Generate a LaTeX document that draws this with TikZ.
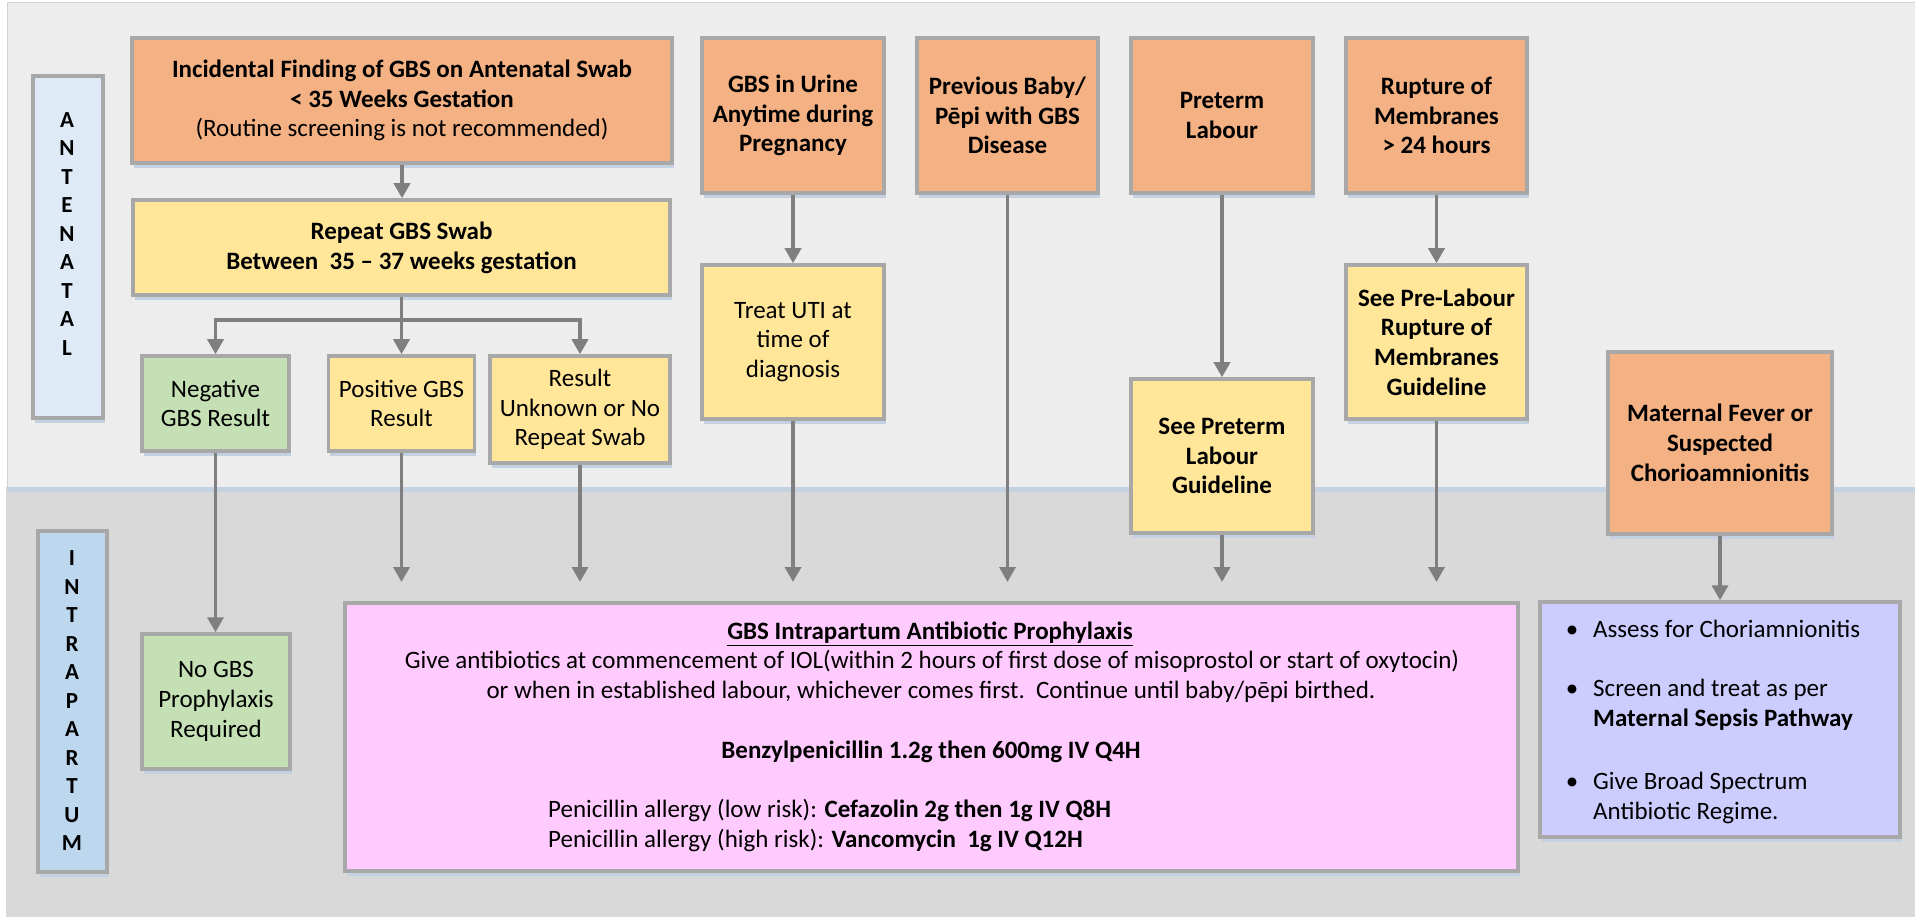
\documentclass[tikz,border=0pt]{standalone}
\usepackage{fontspec}
\setmainfont{Carlito}
\usetikzlibrary{arrows.meta,shadows}
\definecolor{orangeF}{HTML}{F4B183}
\definecolor{yellowF}{HTML}{FFE699}
\definecolor{greenF}{HTML}{C5E0B4}
\definecolor{pinkF}{HTML}{FFCAFE}
\definecolor{lavF}{HTML}{CCCCFF}
\definecolor{antF}{HTML}{DEEBF7}
\definecolor{intF}{HTML}{BDD7EE}
\definecolor{topP}{HTML}{EDEDED}
\definecolor{lowP}{HTML}{D9D9D9}
\definecolor{bordC}{HTML}{A8A8A8}
\definecolor{panelB}{HTML}{D4D4D4}
\definecolor{arrC}{HTML}{7F7F7F}
\definecolor{shadC}{HTML}{C4D1E1}
\begin{document}
\begin{tikzpicture}[x=1pt,y=-1pt,
  shad/.style={drop shadow={shadow xshift=1.5pt,shadow yshift=-5pt,fill=shadC,opacity=1}},
  box/.style={draw=bordC,line width=3.5pt,align=center,inner sep=2pt,shad,
    font=\fontsize{25}{29.7}\selectfont},
  sidebox/.style={draw=bordC,line width=3.5pt,shad},
  letters/.style={font=\bfseries\fontsize{23}{28.5}\selectfont,align=center,inner sep=0pt},
  txt/.style={inner sep=0pt,font=\fontsize{25}{29.7}\selectfont},
  conn/.style={draw=arrC,line width=3.5pt},
  arr/.style={conn,-{Triangle[width=16pt,length=15pt]}}]
\useasboundingbox (0,0) rectangle (1915,917);
\fill[white] (0,0) rectangle (1915,917);
% panels
\fill[lowP] (6,487) rectangle (1915,917);
\filldraw[fill=topP,draw=panelB,line width=1pt] (7,3) rectangle (1916,487);
\fill[shadC] (7,487) rectangle (1915,492);

% side labels
\node[sidebox,fill=antF,minimum width=70pt,minimum height=342pt] (ant) at (68,247) {};
\node[letters] (antl) at (67,234) {A\\N\\T\\E\\N\\A\\T\\A\\L};
\node[sidebox,fill=intF,minimum width=69pt,minimum height=341pt] (intra) at (72.5,701.5) {};
\node[letters] (intral) at (72,701) {I\\N\\T\\R\\A\\P\\A\\R\\T\\U\\M};

% antenatal boxes
\node[box,fill=orangeF,minimum width=540pt,minimum height=125pt] (inc) at (402,100.5)
  {\textbf{Incidental Finding of GBS on Antenatal Swab}\\\textbf{< 35 Weeks Gestation}\\(Routine screening is not recommended)};
\node[box,fill=yellowF,minimum width=537pt,minimum height=95pt] (rep) at (401.5,247.5)
  {\textbf{Repeat GBS Swab}\\\textbf{Between~ 35 – 37 weeks gestation}};
\node[box,fill=greenF,minimum width=147pt,minimum height=95pt] (neg) at (215.5,403.5)
  {Negative\\GBS Result};
\node[box,fill=yellowF,minimum width=146pt,minimum height=95pt] (pos) at (401.5,403.5)
  {Positive GBS\\Result};
\node[box,fill=yellowF,minimum width=180pt,minimum height=107pt] (unk) at (580,409.5)
  {Result\\Unknown or No\\Repeat Swab};
\node[box,fill=orangeF,minimum width=182pt,minimum height=155pt] (uri) at (793,115.5)
  {\textbf{GBS in Urine}\\\textbf{Anytime during}\\\textbf{Pregnancy}};
\node[box,fill=yellowF,minimum width=182pt,minimum height=154pt] (uti) at (793,342)
  {Treat UTI at\\time of\\diagnosis};
\node[box,fill=orangeF,minimum width=181pt,minimum height=155pt] (prev) at (1007.5,115.5)
  {\textbf{Previous Baby/}\\\textbf{Pēpi with GBS}\\\textbf{Disease}};
\node[box,fill=orangeF,minimum width=182pt,minimum height=155pt] (pre) at (1222,115.5)
  {\textbf{Preterm}\\\textbf{Labour}};
\node[box,fill=yellowF,minimum width=182pt,minimum height=154pt] (spt) at (1222,456)
  {\textbf{See Preterm}\\\textbf{Labour}\\\textbf{Guideline}};
\node[box,fill=orangeF,minimum width=181pt,minimum height=155pt] (rup) at (1436.5,115.5)
  {\textbf{Rupture of}\\\textbf{Membranes}\\\textbf{> 24 hours}};
\node[box,fill=yellowF,minimum width=181pt,minimum height=154pt] (spl) at (1436.5,342)
  {\textbf{See Pre-Labour}\\\textbf{Rupture of}\\\textbf{Membranes}\\\textbf{Guideline}};
\node[box,fill=orangeF,minimum width=224pt,minimum height=182pt] (mat) at (1720,443)
  {\textbf{Maternal Fever or}\\\textbf{Suspected}\\\textbf{Chorioamnionitis}};

% intrapartum boxes
\node[box,fill=greenF,minimum width=148pt,minimum height=135pt] (nog) at (216,701.5)
  {No GBS\\Prophylaxis\\Required};
\node[box,fill=pinkF,minimum width=1173pt,minimum height=268pt] (iap) at (931.5,737) {};
\node[box,fill=lavF,minimum width=360pt,minimum height=235pt] (blu) at (1720,719.5) {};

% pink box text
\node[txt] (p1) at (930,634) {\strut\underline{\textbf{GBS Intrapartum Antibiotic Prophylaxis}}};
\node[txt] (p2) at (932,663) {\strut Give antibiotics at commencement of IOL(within 2 hours of first dose of misoprostol or start of oxytocin)};
\node[txt] (p3) at (931,693) {\strut or when in established labour, whichever comes first.\ \ Continue until baby/pēpi birthed.};
\node[txt] (p5) at (931,753) {\strut\textbf{Benzylpenicillin 1.2g then 600mg IV Q4H}};
\node[txt,anchor=west] (p7) at (548,812) {\strut Penicillin allergy (low risk): \textbf{Cefazolin 2g then 1g IV Q8H}};
\node[txt,anchor=west] (p8) at (548,842) {\strut Penicillin allergy (high risk): \textbf{Vancomycin~ 1g IV Q12H}};

% blue box list
\node[txt] (d1) at (1572,632) {\strut•};
\node[txt] (d2) at (1572,691) {\strut•};
\node[txt] (d3) at (1572,784) {\strut•};
\node[txt,anchor=west] (b1) at (1593,632) {\strut Assess for Choriamnionitis};
\node[txt,anchor=west] (b2) at (1593,691) {\strut Screen and treat as per};
\node[txt,anchor=west] (b3) at (1593,721) {\strut\textbf{Maternal Sepsis Pathway}};
\node[txt,anchor=west] (b4) at (1593,784) {\strut Give Broad Spectrum};
\node[txt,anchor=west] (b5) at (1593,814) {\strut Antibiotic Regime.};

% connectors
\coordinate (sp) at (401.5,320);
\coordinate (iapin) at (0,582);
\draw[arr] (inc.south) -- (inc.south |- rep.north);
\draw[arr] (rep.south) -- (rep.south |- pos.north);
\draw[arr] (sp) -| (neg.north);
\draw[arr] (sp) -| (unk.north);
\draw[arr] (neg.south) -- (neg.south |- nog.north);
\draw[arr] (pos.south) -- (pos.south |- iapin);
\draw[arr] (unk.south) -- (unk.south |- iapin);
\draw[arr] (uri.south) -- (uri.south |- uti.north);
\draw[arr] (uti.south) -- (uti.south |- iapin);
\draw[arr] (prev.south) -- (prev.south |- iapin);
\draw[arr] (pre.south) -- (pre.south |- spt.north);
\draw[arr] (spt.south) -- (spt.south |- iapin);
\draw[arr] (rup.south) -- (rup.south |- spl.north);
\draw[arr] (spl.south) -- (spl.south |- iapin);
\draw[arr] (mat.south) -- (mat.south |- blu.north);
\end{tikzpicture}
\end{document}
